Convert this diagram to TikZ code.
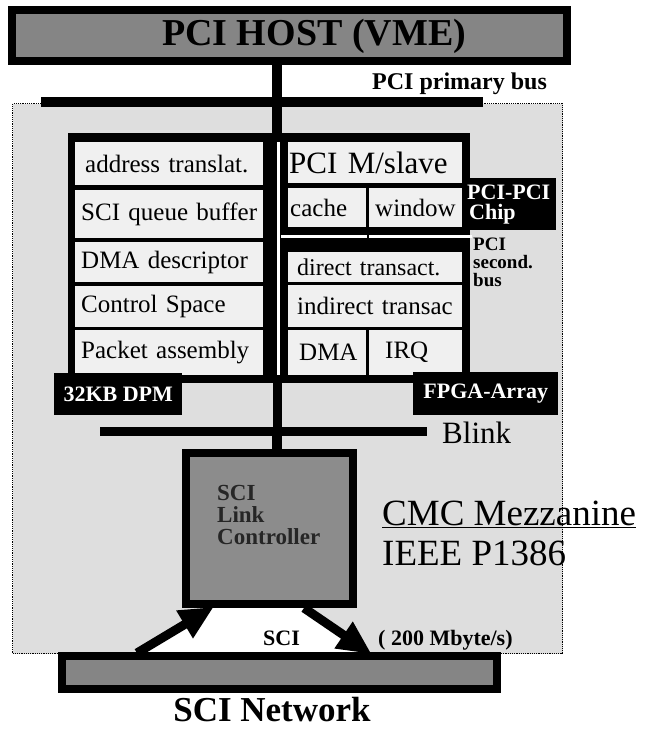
\documentclass[tikz,border=0pt]{standalone}
\usepackage{fontspec}
\setmainfont{Liberation Serif}
\usetikzlibrary{arrows.meta}
\definecolor{hostgray}{gray}{0.52}
\definecolor{mezzgray}{gray}{0.87}
\definecolor{cellgray}{gray}{0.94}
\definecolor{scigray}{gray}{0.55}
\newcommand{\fs}[1]{\fontsize{#1}{#1}\selectfont}
\tikzset{
  x=1pt, y=-1pt,
  cell/.style={fill=cellgray, draw=none, anchor=north west, inner xsep=6pt, inner ysep=0pt,
     align=left, font=\fs{25}},
  blackbox/.style={fill=black, draw=none, inner sep=0pt, anchor=north west},
  tag/.style={fill=black, text=white, font=\bfseries\fs{22}, inner sep=0pt, anchor=north west, align=left},
  busline/.style={line width=10pt, draw=black},
  thickbox/.style={draw=black, line width=8pt, inner sep=0pt},
  bigarrow/.style={line width=9pt, -{Triangle[length=34pt, width=30pt]}, shorten >=-2pt},
  plain/.style={inner sep=0pt, anchor=base west}
}
\begin{document}
\begin{tikzpicture}
\useasboundingbox (0,0) rectangle (647,730);
% mezzanine area
\node[draw=black, densely dotted, line width=1.2pt, fill=mezzgray, minimum width=550pt, minimum height=550pt,
      anchor=north west, inner sep=0pt] (mezz) at (12,103) {};
% host
\node[thickbox, fill=hostgray, minimum width=555pt, minimum height=51pt, font=\bfseries\fs{38}]
   (host) at (289,36) {\hspace{50pt}PCI HOST (VME)};
% PCI primary bus
\coordinate (pbL) at (41,102);
\coordinate (pbR) at (483,102);
\draw[busline] (pbL) -- (pbR);
\node[plain, font=\bfseries\fs{24}] (pbtext) at (372,90) {PCI primary bus};
% board black block
\node[blackbox, minimum width=402pt, minimum height=250pt] (board) at (68,133) {};
\coordinate (boardtop) at (277,133);
\coordinate (boardbot) at (277,383);
\draw[line width=10pt] (host.south -| boardtop) -- (boardtop);
% left cells
\node[cell, minimum width=188pt, minimum height=43pt, text width=176pt] (c1) at (75,142) {\hspace{4pt}address translat.};
\node[cell, minimum width=188pt, minimum height=48pt, text width=176pt] (c2) at (75,190) {SCI queue buffer};
\node[cell, minimum width=188pt, minimum height=40pt, text width=176pt] (c3) at (75,242) {DMA descriptor};
\node[cell, minimum width=188pt, minimum height=41pt, text width=176pt] (c4) at (75,286) {Control Space};
\node[cell, minimum width=188pt, minimum height=45pt, text width=176pt] (c5) at (75,330) {Packet assembly};
% right cells
\node[cell, minimum width=174pt, minimum height=41pt, text width=172pt, inner xsep=1pt, font=\fs{31}] (r1) at (288,142) {PCI M/slave};
\node[cell, minimum width=78pt, minimum height=39pt, text width=74pt, inner xsep=2pt] (r2a) at (288,188) {cache};
\node[cell, minimum width=93pt, minimum height=39pt, text width=89pt, inner xsep=2pt] (r2b) at (369,188) {\hspace{4pt}window};
\node[cell, minimum width=174pt, minimum height=30pt, text width=164pt, inner xsep=5pt, font=\fs{24}] (r3) at (288,252) {\hspace{4pt}direct transact.};
\node[cell, minimum width=174pt, minimum height=42pt, text width=164pt, inner xsep=5pt] (r4) at (288,285) {\hspace{4pt}indirect transac};
\node[cell, minimum width=78pt, minimum height=45pt, text width=66pt] (r5a) at (288,330) {\hspace{5pt}DMA};
\node[cell, minimum width=93pt, minimum height=45pt, text width=81pt] (r5b) at (369,330) {\hspace{10pt}IRQ};
% white gap line between the two blocks and secondary bus line
\draw[white, line width=2.5pt] (c1.north east -| 278.5,0) -- (c5.south east -| 278.5,0);
\coordinate (sbL) at (281,236.5);
\coordinate (sbR) at (472,236.5);
\draw[white, line width=2.5pt] (sbL) -- (sbR);
\draw[black, line width=2pt] (r2a.south east) ++(1.5,0) -- ++(0,25);
\draw[black, line width=2pt] (r5a.north east) ++(1.5,-3) -- ++(0,48);
% labels
\node[tag, minimum width=93pt, minimum height=52pt, text width=88pt, inner xsep=3pt] (chip) at (462,178)
   {\hspace{2pt}PCI-PCI\\[-2pt]\hspace{4pt}Chip};
\node[plain, anchor=north west, font=\bfseries\fs{19}, align=left] (sec) at (473,238)
   {PCI\\[-1pt]second.\\[-1pt]bus};
\node[tag, minimum width=128pt, minimum height=42pt, align=center] (dpm) at (54,373) {32KB DPM};
\node[tag, minimum width=145pt, minimum height=43pt, align=center] (fpga) at (413,372) {FPGA-Array};
% Blink
\coordinate (blL) at (100,431.5);
\coordinate (blR) at (427,431.5);
\draw[line width=9pt] (boardbot) -- (boardbot |- blL);
\draw[line width=9pt] (blL) -- (blR);
\node[plain, font=\fs{31}, anchor=west] (blink) at (442,433) {Blink};
% SCI link controller
\node[thickbox, fill=scigray, minimum width=167pt, minimum height=151pt] (slc) at (269.5,528.5) {};
\draw[line width=10pt] (boardbot |- blL) -- (boardbot |- slc.north);
\node[plain, anchor=north west, font=\bfseries\fs{23}, text=black!85, align=left] (slctext) at (217,485)
   {SCI\\[-1pt]Link\\[-1pt]Controller};
% CMC Mezzanine
\node[plain, font=\fs{37}] (cmc) at (382,525) {\underline{CMC Mezzanine}};
\node[plain, font=\fs{37}] (ieee) at (382,565) {IEEE P1386};
% white trapezoid and arrows
\coordinate (aL0) at (137,653);
\coordinate (aL1) at (212,608);
\coordinate (aR0) at (304,608);
\coordinate (aR1) at (370,653);
\fill[white] (aL1) -- (aR0) -- (aR1) -- (aL0) -- cycle;
\node[plain, font=\bfseries\fs{22}] (scilbl) at (263,645) {SCI};
\node[plain, font=\bfseries\fs{22}] (rate) at (378,645) {( 200 Mbyte/s)};
% SCI network
\node[thickbox, fill=hostgray, minimum width=435pt, minimum height=33pt] (net) at (279,672) {};
\draw[bigarrow] (aL0) -- (aL1);
\draw[bigarrow] (aR0) -- (aR1);
\node[font=\bfseries\fs{35}, inner sep=0pt] (nettext) at (272,710) {SCI Network};
\end{tikzpicture}
\end{document}
